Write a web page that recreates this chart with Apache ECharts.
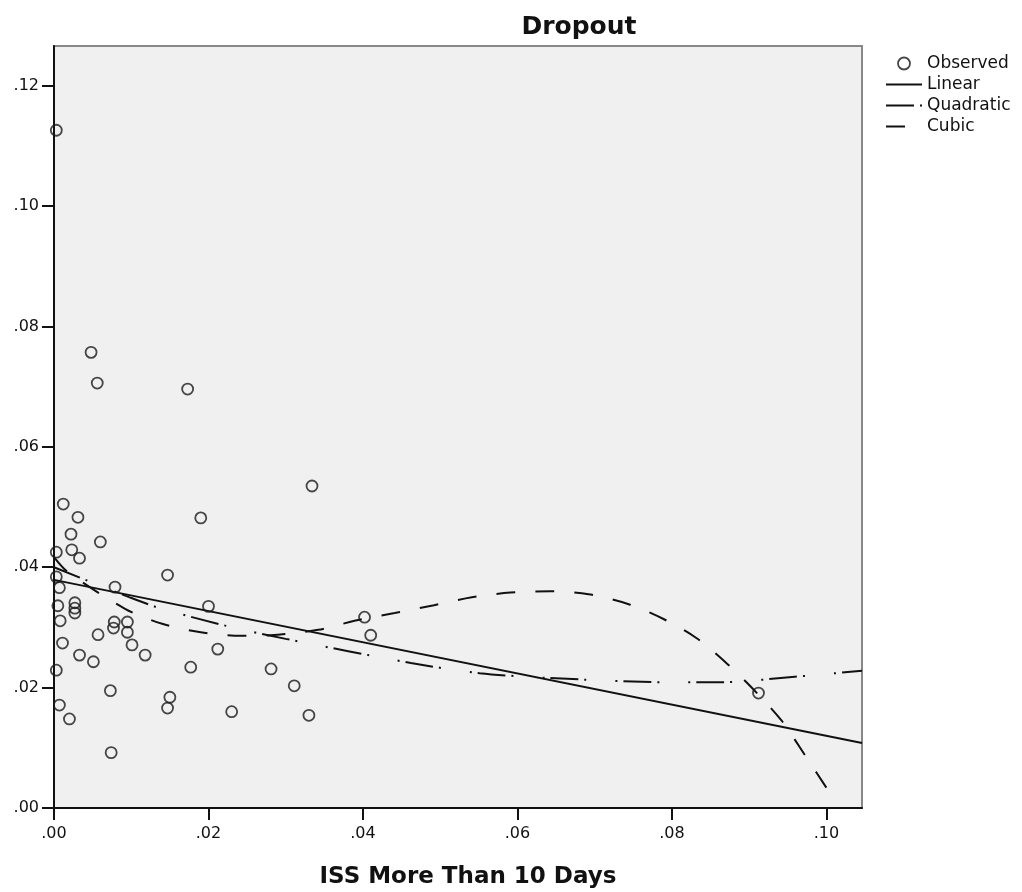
<!DOCTYPE html>
<html>
<head>
<meta charset="utf-8">
<script src="https://cdn.jsdelivr.net/npm/echarts@6/dist/echarts.min.js"></script>
<style>
  html, body { margin: 0; padding: 0; background: #fff; }
  #chart { width: 1022px; height: 892px; }
</style>
</head>
<body>
<div id="chart"></div>
<script>
// observed points [ISS more than 10 days, dropout]
const observed = [
  [0.0003, 0.1126], [0.0048, 0.0757], [0.0056, 0.0706], [0.0173, 0.0696],
  [0.0334, 0.0535], [0.0012, 0.0505], [0.0031, 0.0483], [0.0190, 0.0482],
  [0.0022, 0.0455], [0.0060, 0.0442], [0.0003, 0.0425], [0.0023, 0.0429],
  [0.0033, 0.0415], [0.0147, 0.0387], [0.0003, 0.0384], [0.0079, 0.0367],
  [0.0007, 0.0366], [0.0200, 0.0335], [0.0005, 0.0336], [0.0027, 0.0341],
  [0.0027, 0.0332], [0.0027, 0.0324], [0.0402, 0.0317], [0.0008, 0.0311],
  [0.0078, 0.0309], [0.0077, 0.0299], [0.0095, 0.0309], [0.0095, 0.0292],
  [0.0410, 0.0287], [0.0057, 0.0288], [0.0011, 0.0274], [0.0101, 0.0271],
  [0.0212, 0.0264], [0.0033, 0.0254], [0.0118, 0.0254], [0.0051, 0.0243],
  [0.0003, 0.0229], [0.0177, 0.0234], [0.0281, 0.0231], [0.0073, 0.0195],
  [0.0311, 0.0203], [0.0150, 0.0184], [0.0912, 0.0191], [0.0147, 0.0166],
  [0.0007, 0.0171], [0.0230, 0.0160], [0.0330, 0.0154], [0.0020, 0.0148],
  [0.0074, 0.0092]
];

// fitted curves
const linearFit = [[0, 0.0379], [0.1046, 0.0108]];
const quadraticFit = [
  [0, 0.0400], [0.0098, 0.0350], [0.0137, 0.0332], [0.0228, 0.0301],
  [0.0300, 0.0281], [0.0462, 0.0241], [0.0551, 0.0224], [0.0642, 0.0216],
  [0.0795, 0.0209], [0.0862, 0.0209], [0.0959, 0.0218], [0.1046, 0.0228]
];
const cubicFit = [
  [0, 0.0417], [0.0018, 0.0392], [0.0092, 0.0331], [0.0140, 0.0306],
  [0.0190, 0.0292], [0.0242, 0.0286], [0.0280, 0.0287], [0.0342, 0.0296],
  [0.0389, 0.0311], [0.0441, 0.0324], [0.0492, 0.0337], [0.0541, 0.0350],
  [0.0591, 0.0358], [0.0643, 0.0360], [0.0692, 0.0355], [0.0743, 0.0339],
  [0.0789, 0.0314], [0.0832, 0.0282], [0.0872, 0.0239], [0.0904, 0.0199],
  [0.0942, 0.0145], [0.0972, 0.0088], [0.1008, 0.0018]
];

const xTicks = [0, 0.02, 0.04, 0.06, 0.08, 0.10];
const yTicks = [0, 0.02, 0.04, 0.06, 0.08, 0.10, 0.12];

const fmt = (v) => v.toFixed(2).replace(/^0/, "");
const ink = "#111";
const quadDash = [28, 6, 2, 29, 2, 6];
const cubicDash = [19, 20];
const noMark = { color: "rgba(0,0,0,0)", borderWidth: 0 };
const ring = { color: "rgba(0,0,0,0)", borderColor: "#1a1a1a", borderWidth: 1.8 };

const chart = echarts.init(document.getElementById("chart"));

chart.setOption({
  animation: false,
  title: [
    {
      text: "Dropout",
      left: 574,
      top: 10,
      textAlign: "center",
      textStyle: { fontFamily: "DejaVu Sans", fontWeight: "bold", fontSize: 25, color: ink },
    },
    {
      text: "ISS More Than 10 Days",
      left: 463,
      top: 861,
      textAlign: "center",
      textStyle: { fontFamily: "DejaVu Sans", fontWeight: "bold", fontSize: 23, color: ink },
    },
  ],
  legend: {
    orient: "vertical",
    left: 880,
    top: 50,
    itemWidth: 36,
    itemHeight: 12,
    itemGap: 4,
    selectedMode: false,
    textStyle: { fontFamily: "DejaVu Sans", fontSize: 17, color: ink, lineHeight: 14 },
    data: [
      { name: "Observed", icon: "circle", itemStyle: ring },
      { name: "Linear", itemStyle: noMark, lineStyle: { color: ink, width: 2, type: "solid" } },
      { name: "Quadratic", itemStyle: noMark, lineStyle: { color: ink, width: 2, type: quadDash } },
      { name: "Cubic", itemStyle: noMark, lineStyle: { color: ink, width: 2, type: cubicDash } },
    ],
  },
  grid: {
    left: 54,
    right: 160,
    top: 46,
    bottom: 84,
    show: true,
    backgroundColor: "#f0f0f0",
    borderColor: "#888",
    borderWidth: 2,
  },
  xAxis: {
    type: "value",
    min: 0,
    max: 0.1046,
    axisLine: { lineStyle: { color: ink, width: 2 } },
    axisTick: { show: true, length: 12, customValues: xTicks, lineStyle: { color: ink, width: 2 } },
    axisLabel: {
      customValues: xTicks,
      formatter: fmt,
      margin: 18,
      fontFamily: "DejaVu Sans",
      fontSize: 16,
      color: ink,
    },
    splitLine: { show: false },
  },
  yAxis: {
    type: "value",
    min: 0,
    max: 0.1266,
    axisLine: { show: true, lineStyle: { color: ink, width: 2 } },
    axisTick: { show: true, length: 12, customValues: yTicks, lineStyle: { color: ink, width: 2 } },
    axisLabel: {
      customValues: yTicks,
      formatter: fmt,
      margin: 15,
      fontFamily: "DejaVu Sans",
      fontSize: 16,
      color: ink,
    },
    splitLine: { show: false },
  },
  series: [
    {
      name: "Observed",
      type: "scatter",
      data: observed,
      symbol: "circle",
      symbolSize: 11,
      silent: true,
      itemStyle: ring,
      z: 3,
    },
    {
      name: "Linear",
      type: "line",
      data: linearFit,
      symbol: "none",
      silent: true,
      lineStyle: { color: ink, width: 2 },
      itemStyle: { color: ink },
    },
    {
      name: "Quadratic",
      type: "line",
      data: quadraticFit,
      symbol: "none",
      smooth: 0.3,
      silent: true,
      lineStyle: { color: ink, width: 2, type: quadDash },
      itemStyle: { color: ink },
    },
    {
      name: "Cubic",
      type: "line",
      data: cubicFit,
      symbol: "none",
      smooth: 0.3,
      silent: true,
      lineStyle: { color: ink, width: 2, type: cubicDash },
      itemStyle: { color: ink },
    },
  ],
});
</script>
</body>
</html>
